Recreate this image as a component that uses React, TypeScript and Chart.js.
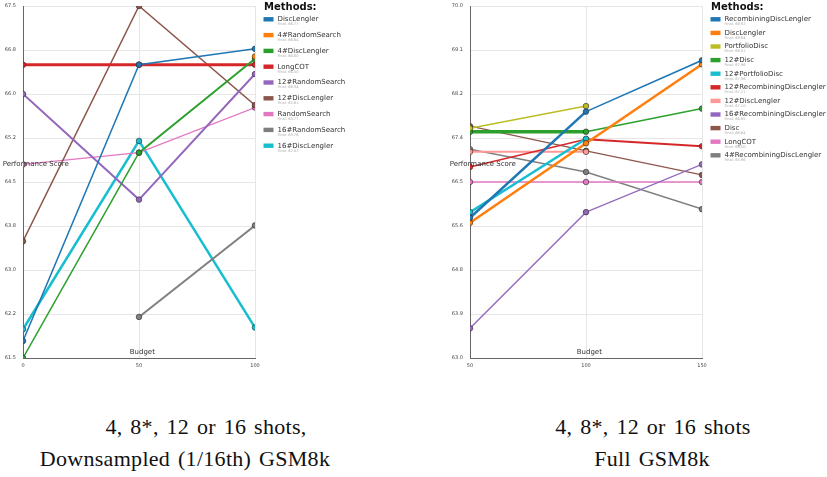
import React, { useEffect, useRef } from "react";
import { Chart, registerables } from "chart.js";
Chart.register(...registerables);

const SANS = "'DejaVu Sans', sans-serif";

// ---------- Left panel: Downsampled GSM8k ----------
const leftBudgets = [0, 50, 100];
const leftYTickValues = [61.5, 62.25, 63, 63.75, 64.5, 65.25, 66, 66.75, 67.5];
const leftYTickLabels = ["61.5", "62.2", "63.0", "63.8", "64.5", "65.2", "66.0", "66.8", "67.5"];
const leftMethods = [
  "DiscLengler",
  "4#RandomSearch",
  "4#DiscLengler",
  "LongCOT",
  "12#RandomSearch",
  "12#DiscLengler",
  "RandomSearch",
  "16#RandomSearch",
  "16#DiscLengler",
];
const leftFinals = ["66.77", "66.64", "66.60", "66.50", "66.34", "65.81", "65.77", "63.76", "62.02"];
const leftDiscLengler = [61.79, 66.5, 66.77];
const left4RandomSearch = [null, null, 66.64];
const left4DiscLengler = [61.5, 65.0, 66.6];
const leftLongCOT = [66.5, 66.5, 66.5];
const left12RandomSearch = [66.0, 64.2, 66.34];
const left12DiscLengler = [63.49, 67.5, 65.81];
const leftRandomSearch = [64.8, 65.0, 65.77];
const left16RandomSearch = [null, 62.2, 63.76];
const left16DiscLengler = [61.99, 65.2, 62.02];
const leftValues = [
  leftDiscLengler,
  left4RandomSearch,
  left4DiscLengler,
  leftLongCOT,
  left12RandomSearch,
  left12DiscLengler,
  leftRandomSearch,
  left16RandomSearch,
  left16DiscLengler,
];

// ---------- Right panel: Full GSM8k ----------
const rightBudgets = [50, 100, 150];
const rightYTickValues = [63, 63.875, 64.75, 65.625, 66.5, 67.375, 68.25, 69.125, 70];
const rightYTickLabels = ["63.0", "63.9", "64.8", "65.6", "66.5", "67.4", "68.2", "69.1", "70.0"];
const rightMethods = [
  "RecombiningDiscLengler",
  "DiscLengler",
  "PortfolioDisc",
  "12#Disc",
  "12#PortfolioDisc",
  "12#RecombiningDiscLengler",
  "12#DiscLengler",
  "16#RecombiningDiscLengler",
  "Disc",
  "LongCOT",
  "4#RecombiningDiscLengler",
];
const rightFinals = ["68.92", "68.84", "68.01", "67.96", "67.36", "67.21", "67.10", "66.85", "66.64", "66.50", "65.96"];
const rightRecombiningDiscLengler = [65.79, 67.9, 68.92];
const rightDiscLengler = [65.69, 67.27, 68.84];
const rightPortfolioDisc = [67.57, 68.01, null];
const right12Disc = [67.5, 67.5, 67.96];
const right12PortfolioDisc = [65.9, 67.36, null];
const right12RecombiningDiscLengler = [66.8, 67.35, 67.21];
const right12DiscLengler = [67.1, 67.1, null];
const right16RecombiningDiscLengler = [63.59, 65.9, 66.85];
const rightDisc = [67.61, 67.12, 66.64];
const rightLongCOT = [66.5, 66.5, 66.5];
const right4RecombiningDiscLengler = [67.15, 66.7, 65.96];
const rightValues = [
  rightRecombiningDiscLengler,
  rightDiscLengler,
  rightPortfolioDisc,
  right12Disc,
  right12PortfolioDisc,
  right12RecombiningDiscLengler,
  right12DiscLengler,
  right16RecombiningDiscLengler,
  rightDisc,
  rightLongCOT,
  right4RecombiningDiscLengler,
];

// ---------- Styles ----------
const leftColors = ["#1f77b4", "#ff7f0e", "#2ca02c", "#d62728", "#9467bd", "#8c564b", "#e377c2", "#7f7f7f", "#17becf"];
const leftWidths = [[1.5, 1.5], [2], [1.5, 2], [3, 3], [2, 2], [1.5, 1.5], [1.3, 1.3], [2], [2.5, 2.5]];
const rightColors = [
  "#1f77b4", "#ff7f0e", "#bcbd22", "#2ca02c", "#17becf", "#d62728",
  "#ff9896", "#9467bd", "#8c564b", "#e377c2", "#7f7f7f",
];
const rightWidths = [
  [2.5, 1.5], [2.5, 2.5], [1.5], [3.5, 1.5], [2.5], [1.5, 2],
  [2], [1.5, 1.2], [1.3, 1.3], [1.5, 1.5], [1.5, 1.5],
];

type PanelProps = {
  x: number;
  budgets: number[];
  yTicks: number[];
  yLabels: string[];
  methods: string[];
  finals: string[];
  values: (number | null)[][];
  colors: string[];
  widths: number[][];
  legendStep: number;
};

function Panel(p: PanelProps) {
  const ref = useRef<HTMLCanvasElement>(null);
  useEffect(() => {
    const canvas = ref.current!;
    const datasets = p.methods.map((name, i) => {
      const pts = p.budgets
        .map((b, j) => ({ x: b, y: p.values[i][j] }))
        .filter((pt) => pt.y !== null);
      const w = p.widths[i];
      return {
        label: name,
        data: pts,
        borderColor: p.colors[i],
        backgroundColor: p.colors[i],
        borderWidth: w[0],
        segment: { borderWidth: (c: any) => w[c.p0DataIndex] ?? w[0] },
        pointRadius: 2.8,
        pointBorderWidth: 0.8,
        pointBorderColor: "rgba(40,40,40,0.75)",
        pointBackgroundColor: p.colors[i],
        tension: 0,
        fill: false,
      };
    });
    const overlay = {
      id: "overlay",
      afterDraw(chart: any) {
        const ctx = chart.ctx as CanvasRenderingContext2D;
        ctx.save();
        ctx.textBaseline = "middle";
        ctx.fillStyle = "#333";
        ctx.font = `7px ${SANS}`;
        ctx.textAlign = "left";
        ctx.fillText("Performance Score", 2.7, 164.3);
        ctx.textAlign = "center";
        ctx.fillText("Budget", 142.3, 351.7);
        ctx.textAlign = "left";
        ctx.font = `bold 10px ${SANS}`;
        ctx.fillStyle = "#111";
        ctx.fillText("Methods:", 264, 7.5);
        p.methods.forEach((name, i) => {
          const y = 19.3 + i * p.legendStep;
          ctx.fillStyle = p.colors[i];
          ctx.fillRect(263.5, y - 2.2, 10, 4.4);
          ctx.fillStyle = "#333";
          ctx.font = `7px ${SANS}`;
          ctx.fillText(name, 277.5, y);
          ctx.fillStyle = "#aaa";
          ctx.font = `3.6px ${SANS}`;
          ctx.fillText("Final: " + p.finals[i], 277.5, y + 5);
        });
        ctx.restore();
      },
    };
    const chart = new Chart(canvas, {
      type: "line",
      data: { datasets: datasets as any },
      plugins: [overlay],
      options: {
        animation: false,
        responsive: false,
        devicePixelRatio: 1,
        layout: { padding: { left: 0, top: 6, right: 125, bottom: 0 } },
        plugins: {
          legend: { display: false },
          tooltip: { enabled: false },
          title: { display: false },
        },
        scales: {
          x: {
            type: "linear",
            min: p.budgets[0],
            max: p.budgets[p.budgets.length - 1],
            afterBuildTicks: (s: any) => {
              s.ticks = p.budgets.map((v) => ({ value: v }));
            },
            afterFit: (s: any) => {
              s.height = 22;
            },
            grid: { color: "#e6e6e6", drawTicks: false },
            border: { display: true, color: "#666", width: 1 },
            ticks: {
              font: { size: 5, family: SANS },
              color: "#444",
              padding: 5,
              autoSkip: false,
              maxRotation: 0,
              callback: (v: any) => String(v),
            },
          },
          y: {
            type: "linear",
            min: p.yTicks[0],
            max: p.yTicks[p.yTicks.length - 1],
            afterBuildTicks: (s: any) => {
              s.ticks = p.yTicks.map((v) => ({ value: v }));
            },
            afterFit: (s: any) => {
              s.width = 23;
            },
            grid: { color: "#e6e6e6", drawTicks: true, tickLength: 4, tickColor: "rgba(0,0,0,0)" },
            border: { display: true, color: "#666", width: 1 },
            ticks: {
              font: { size: 5, family: SANS },
              color: "#444",
              padding: 3,
              autoSkip: false,
              callback: (_v: any, i: number) => p.yLabels[i],
            },
          },
        },
      },
    });
    return () => chart.destroy();
  }, []);
  return (
    <canvas
      ref={ref}
      width={380}
      height={380}
      style={{ position: "absolute", left: p.x, top: 0, width: 380, height: 380 }}
    />
  );
}

const capStyle: React.CSSProperties = {
  position: "absolute",
  width: 420,
  textAlign: "center",
  fontFamily: "'Liberation Serif', serif",
  fontSize: 22,
  lineHeight: "22px",
  letterSpacing: "0.3px",
  wordSpacing: "2px",
  color: "#111",
  whiteSpace: "nowrap",
};

export default function App() {
  return (
    <div
      style={{
        position: "fixed",
        left: 0,
        top: 0,
        width: 827,
        height: 477,
        background: "#fff",
        overflow: "hidden",
      }}
    >
      <Panel
        x={0}
        budgets={leftBudgets}
        yTicks={leftYTickValues}
        yLabels={leftYTickLabels}
        methods={leftMethods}
        finals={leftFinals}
        values={leftValues}
        colors={leftColors}
        widths={leftWidths}
        legendStep={15.8}
      />
      <Panel
        x={447}
        budgets={rightBudgets}
        yTicks={rightYTickValues}
        yLabels={rightYTickLabels}
        methods={rightMethods}
        finals={rightFinals}
        values={rightValues}
        colors={rightColors}
        widths={rightWidths}
        legendStep={13.6}
      />
      <div style={{ ...capStyle, left: 206 - 210, top: 416 }}>4, 8*, 12 or 16 shots,</div>
      <div style={{ ...capStyle, left: 185 - 210, top: 448.4 }}>Downsampled (1/16th) GSM8k</div>
      <div style={{ ...capStyle, left: 653 - 210, top: 416 }}>4, 8*, 12 or 16 shots</div>
      <div style={{ ...capStyle, left: 652 - 210, top: 448.4 }}>Full GSM8k</div>
    </div>
  );
}
